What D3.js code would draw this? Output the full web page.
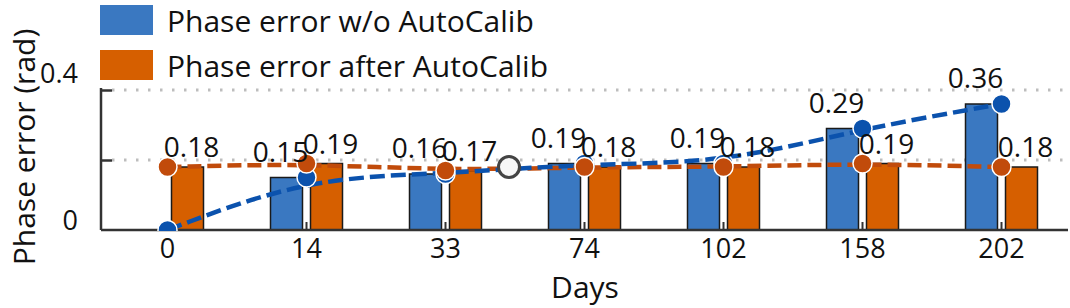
<!DOCTYPE html>
<html>
<head>
<meta charset="utf-8">
<script src="https://cdn.jsdelivr.net/npm/d3@7"></script>
<style>
  body { margin: 0; background: #fff; }
  svg { display: block; font-family: "Open Sans", sans-serif; }
</style>
</head>
<body>
<div id="chart"></div>
<script>
var days = ["0", "14", "33", "74", "102", "158", "202"];
var seriesNames = ["Phase error w/o AutoCalib", "Phase error after AutoCalib"];
var withoutCalib = [0, 0.15, 0.16, 0.19, 0.19, 0.29, 0.36];
var afterCalib = [0.18, 0.19, 0.17, 0.18, 0.18, 0.19, 0.18];
var yTicks = [0, 0.4];
var gridTicks = [0.2, 0.4];

var width = 1070, height = 308;
var barColors = ["#3a78c1", "#d65f00"];
var lineColors = ["#0b52ad", "#c14b0b"];

var svg = d3.select("#chart").append("svg")
    .attr("width", width)
    .attr("height", height);

// scales
var x = d3.scaleBand().domain(days).range([98, 1071]).padding(0);
var sub = d3.scaleBand().domain([0, 1]).range([-36, 36]).paddingInner(0.2);
var y = d3.scaleLinear().domain([0, 0.4]).range([230, 90]);
function cx(d) { return x(d) + x.bandwidth() / 2; }

// dotted grid
svg.append("g").selectAll("line")
    .data(gridTicks).enter().append("line")
    .attr("x1", 112).attr("x2", 1068)
    .attr("y1", d => y(d)).attr("y2", d => y(d))
    .attr("stroke", "#bdbdbd").attr("stroke-width", 3)
    .attr("stroke-dasharray", "2.5 9.5");

// bars
var both = [withoutCalib, afterCalib];
both.forEach(function (vals, s) {
    svg.append("g").selectAll("rect")
        .data(days).enter().append("rect")
        .attr("x", (d) => cx(d) + sub(s))
        .attr("y", (d, i) => y(vals[i]))
        .attr("width", sub.bandwidth())
        .attr("height", (d, i) => y(0) - y(vals[i]))
        .attr("fill", barColors[s])
        .attr("stroke", "#1a1a1a")
        .attr("stroke-width", 1.5);
});

// small category ticks on the axis
svg.append("g").selectAll("line")
    .data(days).enter().append("line")
    .attr("x1", d => cx(d)).attr("x2", d => cx(d))
    .attr("y1", 230).attr("y2", 222)
    .attr("stroke", "#333").attr("stroke-width", 2);

// axes
var xAxis = svg.append("g").attr("transform", "translate(0,230)")
    .call(d3.axisBottom(x).tickSize(0).tickPadding(9));
xAxis.select(".domain").attr("d", "M101,0H1068").attr("stroke", "#333").attr("stroke-width", 2.5);
xAxis.selectAll("text").attr("font-size", 27).attr("fill", "#111")
    .attr("font-family", "Open Sans, sans-serif");

var yAxis = svg.append("g").attr("transform", "translate(101,0)")
    .call(d3.axisRight(y).tickValues(gridTicks).tickSize(11).tickFormat(""));
yAxis.select(".domain").attr("d", "M0,88V230").attr("stroke", "#333").attr("stroke-width", 2.5);
yAxis.selectAll(".tick line").attr("stroke", "#333").attr("stroke-width", 2.5);

svg.append("g").selectAll("text")
    .data(yTicks).enter().append("text")
    .attr("x", 78)
    .attr("y", d => y(d) - (d === 0 ? 0 : 7))
    .attr("text-anchor", "end")
    .attr("font-size", 27).attr("fill", "#111")
    .text(d => d3.format("~g")(d));

// axis titles
svg.append("text")
    .attr("transform", "translate(35,147) rotate(-90)")
    .attr("text-anchor", "middle")
    .attr("font-size", 30).attr("fill", "#111")
    .text("Phase error (rad)");
svg.append("text")
    .attr("x", 585).attr("y", 298)
    .attr("text-anchor", "middle")
    .attr("font-size", 30).attr("fill", "#111")
    .text("Days");

// clip for markers sitting on the axis
svg.append("clipPath").attr("id", "plotclip")
    .append("rect").attr("x", 90).attr("y", 60).attr("width", 980).attr("height", 171);

var plot = svg.append("g").attr("clip-path", "url(#plotclip)");

// trend lines (smoothed)
var line = d3.line().curve(d3.curveBasis);
plot.append("path")
    .attr("d", line(days.map((d, i) => [cx(d), y(afterCalib[i])])))
    .attr("fill", "none").attr("stroke", lineColors[1]).attr("stroke-width", 4.5)
    .attr("stroke-dasharray", "14 6");
plot.append("path")
    .attr("d", line(days.map((d, i) => [cx(d), y(withoutCalib[i])])))
    .attr("fill", "none").attr("stroke", lineColors[0]).attr("stroke-width", 4.5)
    .attr("stroke-dasharray", "15 6");

// markers
[0, 1].forEach(function (s) {
    plot.append("g").selectAll("circle")
        .data(days).enter().append("circle")
        .attr("cx", d => cx(d))
        .attr("cy", (d, i) => y(both[s][i]))
        .attr("r", 9.5)
        .attr("fill", lineColors[s])
        .attr("stroke", "#fff").attr("stroke-width", 1.5);
});

// crossing marker between the two lines
plot.append("circle")
    .attr("cx", (cx("33") + cx("74")) / 2 - 6)
    .attr("cy", y(0.18))
    .attr("r", 10.5)
    .attr("fill", "#f7f7f7")
    .attr("stroke", "#444").attr("stroke-width", 3);

// value labels
var fmt = d3.format(".2f");
svg.append("g").selectAll("text")
    .data(days).enter().append("text")
    .attr("x", d => cx(d) + sub(0) + sub.bandwidth() / 2 - 6)
    .attr("y", (d, i) => y(withoutCalib[i]) - 16)
    .attr("text-anchor", "middle")
    .attr("font-size", 28).attr("fill", "#111")
    .text((d, i) => withoutCalib[i] === 0 ? "" : fmt(withoutCalib[i]));
svg.append("g").selectAll("text")
    .data(days).enter().append("text")
    .attr("x", d => cx(d) + sub(1) + sub.bandwidth() / 2 + 4)
    .attr("y", (d, i) => y(afterCalib[i]) - 10)
    .attr("text-anchor", "middle")
    .attr("font-size", 28).attr("fill", "#111")
    .text((d, i) => fmt(afterCalib[i]));

// legend
var legend = svg.append("g");
seriesNames.forEach(function (name, s) {
    legend.append("rect")
        .attr("x", 100).attr("y", 5 + s * 45)
        .attr("width", 53).attr("height", 30)
        .attr("fill", barColors[s]);
    legend.append("text")
        .attr("x", 167).attr("y", 32 + s * 45)
        .attr("font-size", 30).attr("fill", "#111")
        .text(name);
});
</script>
</body>
</html>
